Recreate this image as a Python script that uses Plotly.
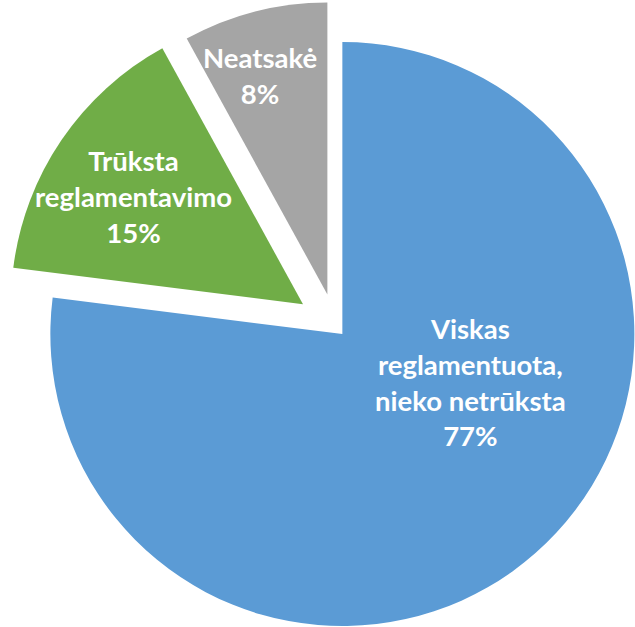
import math
import plotly.graph_objects as go

# Survey answers and their shares (%)
labels = ["Viskas<br>reglamentuota,<br>nieko netrūksta", "Trūksta<br>reglamentavimo", "Neatsakė"]
values = [77, 15, 8]

# Styling
colors = ["#5B9BD5", "#70AD47", "#A5A5A5"]
explode = [0.035, 0.135, 0.113]          # radial offset of each slice, fraction of radius
label_polar = [(110.6, 0.467), (302.3, 0.688), (342.9, 0.786)]  # (angle cw from top, radius fraction)

W, H = 635, 627
R = 292                 # pie radius, px
CX, CY = 335.6, 326.4   # common pie centre, px (y downwards)

total = sum(values)
fig = go.Figure()
annotations = []
cum = 0.0
for i, (lab, val) in enumerate(zip(labels, values)):
    mid = math.radians((cum + val / 2) / total * 360)
    cum += val
    # each slice is drawn by its own pie, shifted outwards along the slice bisector
    cx = CX + explode[i] * R * math.sin(mid)
    cy = CY - explode[i] * R * math.cos(mid)
    dom_x = [max(0, (cx - R) / W), min(1, (cx + R) / W)]
    dom_y = [max(0, 1 - (cy + R) / H), min(1, 1 - (cy - R) / H)]
    slice_colors = [c if j == i else "rgba(0,0,0,0)" for j, c in enumerate(colors)]
    fig.add_trace(go.Pie(
        values=values,
        sort=False,
        direction="clockwise",
        rotation=0,
        marker=dict(colors=slice_colors, line=dict(width=0)),
        textinfo="none",
        hoverinfo="skip",
        showlegend=False,
        domain=dict(x=dom_x, y=dom_y),
    ))
    ang, frac = label_polar[i]
    tx = cx + frac * R * math.sin(math.radians(ang))
    ty = cy - frac * R * math.cos(math.radians(ang))
    annotations.append(dict(
        x=tx / W, y=1 - ty / H, xref="paper", yref="paper",
        xanchor="center", yanchor="middle", showarrow=False,
        text=f"{lab}<br>{val}%",
        font=dict(family="Lato", size=27.5, color="white", weight="bold"),
    ))

fig.update_layout(
    width=W, height=H,
    margin=dict(l=0, r=0, t=0, b=0),
    paper_bgcolor="white",
    plot_bgcolor="white",
    annotations=annotations,
)

fig.write_html("out.html")
